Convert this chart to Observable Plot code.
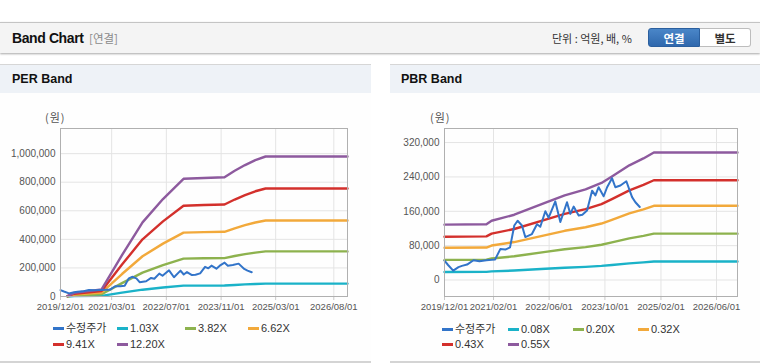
<!DOCTYPE html>
<html>
<head>
<meta charset="utf-8">
<script src="https://cdn.jsdelivr.net/npm/d3@7"></script>
<script src="https://cdn.jsdelivr.net/npm/@observablehq/plot@0.6"></script>
<style>
  html, body { margin: 0; padding: 0; background: #fff; }
  body { width: 760px; height: 364px; position: relative; overflow: hidden;
         font-family: "Liberation Sans", "Noto Sans CJK KR", sans-serif; }
  .abs { position: absolute; }
  #hdr { left: 0; top: 22px; width: 760px; height: 30px; background: #f4f4f4;
         border-top: 1px solid #c4c4c4; box-shadow: 0 1px 2px rgba(0,0,0,0.35); }
  .title { font-weight: bold; font-size: 14px; color: #111; letter-spacing: -0.4px; }
  .sub { font-size: 11.5px; color: #8a8a8a; font-family: "Noto Sans CJK KR", sans-serif; }
  .unit { font-size: 11px; color: #333; font-family: "Noto Sans CJK KR", sans-serif; }
  .btn { height: 19px; line-height: 19px; text-align: center; font-size: 11.5px; font-weight: bold;
         font-family: "Noto Sans CJK KR", sans-serif; box-sizing: border-box; }
  .panel { top: 64px; height: 299px; border-top: 1px solid #d6d6d6; border-bottom: 2px solid #d4d4d4; background: #fefefe; box-sizing: border-box; }
  .phead { left: 0; top: 0; right: 0; height: 28px; background: #eef2f7; }
  .ptitle { font-weight: bold; font-size: 12.5px; color: #111; }
  .won { font-size: 11px; color: #555; font-family: "Noto Sans CJK KR", sans-serif; letter-spacing: 1px; }
  .lg { font-size: 11px; color: #333; height: 14px; line-height: 14px; white-space: nowrap; font-family: "Liberation Sans", "Noto Sans CJK KR", sans-serif; }
  .sw { position: absolute; height: 3px; width: 11px; }
</style>
</head>
<body>
<div id="hdr" class="abs"></div>
<div class="abs title" style="left:12px; top:30px;">Band Chart</div>
<div class="abs sub" style="left:89px; top:30px;">[연결]</div>
<div class="abs unit" style="left:552px; top:30px;">단위 : 억원, 배, %</div>
<div class="abs btn" style="left:648px; top:28px; width:52px; background:linear-gradient(#4a86c8,#2f68ad); color:#fff; border:1px solid #2b5f9e; border-radius:3px 0 0 3px;">연결</div>
<div class="abs btn" style="left:700px; top:28px; width:51px; background:#fff; color:#333; border:1px solid #bdbdbd; border-left:none; border-radius:0 3px 3px 0;">별도</div>

<div class="abs panel" style="left:0; width:371px;"><div class="abs phead"></div></div>
<div class="abs panel" style="left:390px; width:370px;"><div class="abs phead"></div></div>
<div class="abs ptitle" style="left:12px; top:72px;">PER Band</div>
<div class="abs ptitle" style="left:401px; top:72px;">PBR Band</div>
<div class="abs won" style="left:45px; top:109px;">(원)</div>
<div class="abs won" style="left:430px; top:109px;">(원)</div>

<div id="per" class="abs" style="left:0; top:100px;"></div>
<div id="pbr" class="abs" style="left:385px; top:100px;"></div>
<div id="legends"></div>

<script>
// ---------- data ----------
const PRICE_DATES = ["2019-12-01","2020-01-01","2020-02-15","2020-04-01","2020-05-01","2020-06-15","2020-08-10","2020-10-01","2020-12-01","2021-01-15","2021-02-15","2021-04-01","2021-05-15","2021-06-25","2021-08-01","2021-08-30","2021-10-07","2021-11-05","2022-01-02","2022-02-15","2022-03-16","2022-04-29","2022-05-28","2022-07-25","2022-09-07","2022-11-04","2022-12-03","2023-01-01","2023-02-14","2023-03-18","2023-04-28","2023-06-11","2023-07-10","2023-08-07","2023-09-20","2023-10-20","2023-12-02","2023-12-31","2024-02-13","2024-04-05","2024-05-25","2024-06-23","2024-07-31"];
const PRICE = [45000,35000,22000,30000,33000,36000,46000,44000,46000,47000,48000,72000,71000,76000,127000,138000,127000,100000,107000,130000,124000,160000,145000,183000,135000,181000,154000,171000,150000,152000,162000,208000,197000,216000,195000,216000,237000,216000,220000,230000,193000,181000,170000];

const PER_DATES = ["2020-02-01","2020-04-01","2020-12-01","2021-06-01","2021-12-01","2022-06-01","2022-12-01","2023-06-01","2023-12-01","2024-03-01","2024-06-01","2024-09-01","2024-12-01","2026-12-01"];
const PER_1_03  = [300,2300,4600,26700,47700,62700,75800,76400,76800,81000,84600,87900,90200,90200];
const PER_3_82  = [1000,8100,16100,93400,167100,219600,265300,267300,268900,283400,296200,307500,315600,315600];
const PER_6_62  = [1600,13600,27100,157400,281600,370000,447100,450400,453100,477500,499200,518200,531700,531700];
const PER_9_41  = [2300,19300,38600,223700,400300,526000,635500,640200,644000,678700,709600,736600,755900,755900];
const PER_12_20 = [3000,25000,50000,290000,519000,682000,824000,830000,835000,880000,920000,955000,980000,980000];

const PBR_DATES = ["2019-12-01","2020-12-01","2021-01-15","2021-08-01","2022-05-01","2022-10-15","2023-04-15","2023-09-01","2023-12-01","2024-05-01","2024-09-01","2024-12-01","2026-12-01"];
const PBR_0_08 = [18800,18900,20100,22100,26200,28700,30700,32900,35100,38800,41200,43200,43200];
const PBR_0_20 = [46900,47300,50200,55300,65500,71600,76700,82200,87600,97100,102900,108000,108000];
const PBR_0_32 = [75100,75600,80300,88400,104700,114600,122800,131500,140200,155300,164600,172800,172800];
const PBR_0_43 = [100900,101600,107900,118800,140700,154000,165000,176700,188400,208700,221300,232200,232200];
const PBR_0_55 = [129000,130000,138000,152000,180000,197000,211000,226000,241000,267000,283000,297000,297000];

const PER_LABELS = ["수정주가","1.03X","3.82X","6.62X","9.41X","12.20X"];
const PBR_LABELS = ["수정주가","0.08X","0.20X","0.32X","0.43X","0.55X"];
const COLORS = ["#3274c9","#1ab2c8","#8db24e","#f2a93b","#d3302c","#8d5a9e"];

const PER_XTICKS = ["2019-12-01","2021-03-01","2022-07-01","2023-11-01","2025-03-01","2026-08-01"];
const PBR_XTICKS = ["2019-12-01","2021-02-01","2022-06-01","2023-10-01","2025-02-01","2026-06-01"];
const PER_YTICKS = [0,200000,400000,600000,800000,1000000];
const PBR_YTICKS = [0,80000,160000,240000,320000];
const X_DOMAIN = ["2019-12-01","2026-12-01"];
const PER_YDOMAIN = [0,1176000];
const PBR_YDOMAIN = [-38300,352700];

// ---------- build ----------
const toDate = d => new Date(d + "T00:00:00Z");
const toRows = (dates, vals) => dates.map((d,i)=>({date:toDate(d), value:vals[i]}));
const fmtDate = d3.utcFormat("%Y/%m/%d");
const fmtNum = d3.format(",");

function chart(bands, bandDates, xt, yt, ydom, marginLeft, width) {
  const price = toRows(PRICE_DATES, PRICE);
  const xticks = xt.map(toDate);
  const marks = [
    Plot.gridY(yt, {stroke:"#e4e4e4", strokeOpacity:1}),
    Plot.gridX(xticks, {stroke:"#e4e4e4", strokeOpacity:1}),
    Plot.axisX(xticks, {label:null, tickSize:4, tickPadding:3, stroke:"#c8c8c8", fill:"#555", fontSize:9.5, tickFormat: fmtDate}),
    Plot.axisY(yt, {label:null, tickSize:0, tickPadding:5, fill:"#555", fontSize:10, tickFormat: fmtNum}),
  ];
  bands.forEach((vals, i) => {
    marks.push(Plot.line(toRows(bandDates, vals), {x:"date", y:"value", stroke: COLORS[i+1], strokeWidth: 2.4}));
  });
  marks.push(Plot.line(price, {x:"date", y:"value", stroke: COLORS[0], strokeWidth: 2}));
  marks.push(Plot.frame({stroke:"#b0b0b0"}));
  return Plot.plot({
    width, height: 218,
    marginLeft, marginRight: 23, marginTop: 28, marginBottom: 22,
    style: {fontSize:"10px", fontFamily:"'Liberation Sans', sans-serif", background:"transparent", color:"#555"},
    x: {type:"utc", domain: X_DOMAIN.map(toDate), label:null},
    y: {domain: ydom, label:null},
    marks
  });
}

document.getElementById("per").appendChild(
  chart([PER_1_03, PER_3_82, PER_6_62, PER_9_41, PER_12_20], PER_DATES, PER_XTICKS, PER_YTICKS, PER_YDOMAIN, 60, 370));
document.getElementById("pbr").appendChild(
  chart([PBR_0_08, PBR_0_20, PBR_0_32, PBR_0_43, PBR_0_55], PBR_DATES, PBR_XTICKS, PBR_YTICKS, PBR_YDOMAIN, 59, 375));

// ---------- legends ----------
function legend(labels, swX, rowY) {
  const host = document.getElementById("legends");
  labels.forEach((lab, i) => {
    const row = i < 4 ? 0 : 1, col = i < 4 ? i : i - 4;
    const el = document.createElement("div");
    el.className = "abs lg";
    el.style.left = swX[col] + "px";
    el.style.top = (rowY[row] - 7) + "px";
    el.style.paddingLeft = "13px";
    const sw = document.createElement("span");
    sw.className = "sw";
    sw.style.left = "0px"; sw.style.top = "6px";
    sw.style.background = COLORS[i];
    el.appendChild(sw);
    el.appendChild(document.createTextNode(lab));
    host.appendChild(el);
  });
}
legend(PER_LABELS, [53,117,185,248], [328,344]);
legend(PBR_LABELS, [442,508,573,638], [329,344]);
</script>
</body>
</html>
